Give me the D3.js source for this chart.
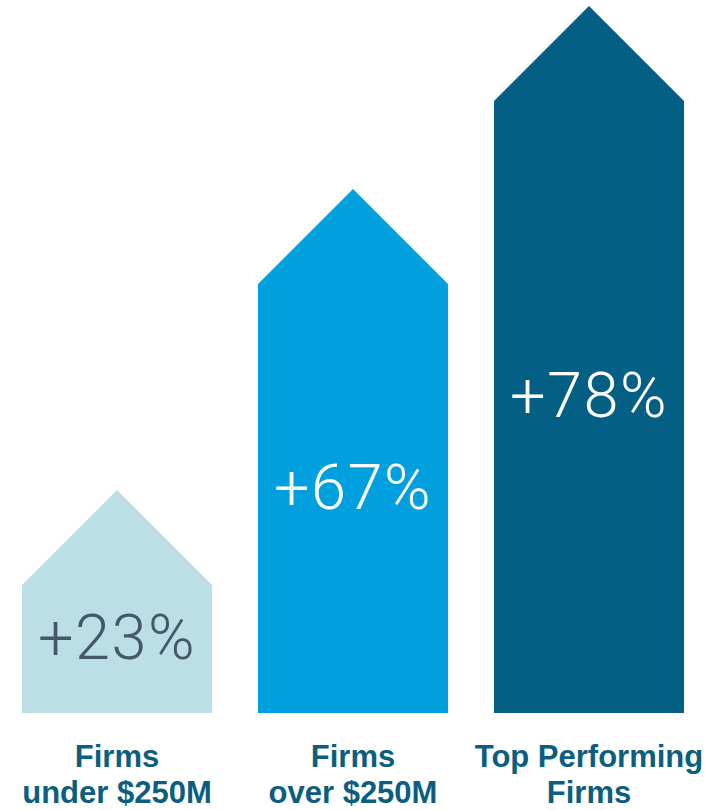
<!DOCTYPE html>
<html>
<head>
<meta charset="utf-8">
<script src="https://cdn.jsdelivr.net/npm/d3@7"></script>
<style>
  html, body { margin: 0; padding: 0; background: #fff; }
  svg { display: block; }
</style>
</head>
<body>
<svg id="chart" width="706" height="810"></svg>
<script>
var categories = ["under", "over", "top"];
var labelLines = [["Firms", "under $250M"], ["Firms", "over $250M"], ["Top Performing", "Firms"]];
var values = [23, 67, 78];
var valueLabels = ["+23%", "+67%", "+78%"];
var barColors = ["#bcdee6", "#00a0de", "#035f84"];
var textColors = ["#45586a", "#ffffff", "#ffffff"];

var svg = d3.select("#chart");
var baseline = 713;

var x = d3.scaleBand().domain(categories).range([22, 684]).paddingInner(0.195).paddingOuter(0);
// infographic is not drawn to a linear scale, so map each value to its shoulder height
var y = d3.scaleLinear().domain([0].concat(values)).range([baseline, 585, 284, 101]);

var bars = svg.selectAll("g.bar")
  .data(values)
  .enter().append("g")
  .attr("class", "bar");

bars.append("path")
  .attr("d", function(d, i) {
    var x0 = x(categories[i]), w = x.bandwidth(), top = y(d), roof = w / 2;
    return "M" + x0 + "," + baseline +
      "L" + x0 + "," + top +
      "L" + (x0 + w / 2) + "," + (top - roof) +
      "L" + (x0 + w) + "," + top +
      "L" + (x0 + w) + "," + baseline + "Z";
  })
  .attr("fill", function(d, i) { return barColors[i]; });

bars.append("text")
  .attr("x", function(d, i) { return x(categories[i]) + x.bandwidth() / 2; })
  .attr("y", function(d) { return (y(d) + baseline) / 2 + 10; })
  .attr("text-anchor", "middle")
  .attr("font-family", "Roboto, 'Liberation Sans', sans-serif")
  .attr("font-weight", 300)
  .attr("font-size", 63)
  .attr("letter-spacing", 1.5)
  .attr("fill", function(d, i) { return textColors[i]; })
  .text(function(d, i) { return valueLabels[i]; });

var labels = svg.selectAll("text.cat")
  .data(categories)
  .enter().append("text")
  .attr("class", "cat")
  .attr("x", function(d) { return x(d) + x.bandwidth() / 2; })
  .attr("y", 767)
  .attr("text-anchor", "middle")
  .attr("font-family", "'Liberation Sans', Arial, sans-serif")
  .attr("font-weight", "bold")
  .attr("font-size", 31)
  .attr("fill", "#0b5e80");

labels.selectAll("tspan")
  .data(function(d, i) { return labelLines[i]; })
  .enter().append("tspan")
  .attr("x", function() { return d3.select(this.parentNode).attr("x"); })
  .attr("dy", function(d, i) { return i === 0 ? 0 : 36; })
  .text(function(d) { return d; });
</script>
</body>
</html>
